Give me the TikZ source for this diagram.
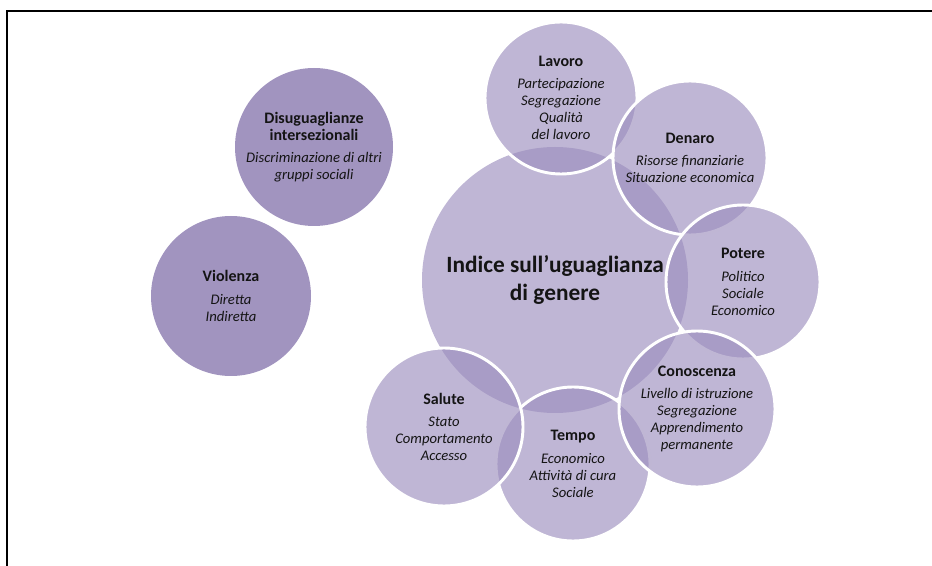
\documentclass[tikz,border=0pt]{standalone}
\usepackage{fontspec}
\setmainfont{Carlito}
\usepackage{tikz}
\usetikzlibrary{positioning}
\definecolor{lilac}{RGB}{155,141,189}
\definecolor{darklilac}{RGB}{161,148,191}
\tikzset{%
	every bubble/.style={
		circle,
		fill=lilac,
		fill opacity=0.64,
		text opacity=1,
		draw=white,
		line width=2.2pt,
		inner sep=0pt,
		align=center,
		text=black!92,
		font=\fontsize{11}{12.75}\selectfont
	},
	bubble size/.style={minimum size=#1*1.5pt},
	dark bubble/.style={
		every bubble,
		fill=darklilac,
		fill opacity=1,
		draw=none
	},
	main bubble/.style={
		every bubble,
		draw=none,
		font=\bfseries\fontsize{17.5}{21}\selectfont
	},
}
\newcommand{\bubbletitle}[1]{{\fontsize{12}{13}\selectfont\textbf{#1}}\\[4pt]}

\begin{document}
\begin{tikzpicture}[x=0.75pt, y=-0.75pt]
	\useasboundingbox (0,0) rectangle (932,566);

	% Draw the frame
	\draw[line width=1.6pt] (7,566) -- (7,11) -- (932,11);

	% Draw the two dark circles on the left
	\node[dark bubble, bubble size=79] (disug) at (314,147) {{\fontsize{12}{13}\selectfont\textbf{Disuguaglianze}}\\\bubbletitle{intersezionali}\itshape Discriminazione di altri\\\itshape gruppi sociali};
	\node[dark bubble, bubble size=80] (violenza) at (231,296) {\bubbletitle{Violenza}\itshape Diretta\\\itshape Indiretta};

	% Draw the central circle
	\node[main bubble, bubble size=133] (indice) at (555,280) {Indice sull'uguaglianza\\di genere};

	% Draw the ring of circles round it
	\node[every bubble, bubble size=76] (lavoro) at (561,98) {\bubbletitle{Lavoro}\itshape Partecipazione\\\itshape Segregazione\\\itshape Qualità\\\itshape del lavoro};
	\node[every bubble, bubble size=77] (denaro) at (690,158) {\bubbletitle{Denaro}\itshape Risorse finanziarie\\\itshape Situazione economica};
	\node[every bubble, bubble size=77] (potere) at (743,282) {\bubbletitle{Potere}\itshape Politico\\\itshape Sociale\\\itshape Economico};
	\node[every bubble, bubble size=77] (tempo) at (573,464) {\bubbletitle{Tempo}\itshape Economico\\\itshape Attività di cura\\\itshape Sociale};
	\node[every bubble, bubble size=78] (conoscenza) at (697,409) {\bubbletitle{Conoscenza}\itshape Livello di istruzione\\\itshape Segregazione\\\itshape Apprendimento\\\itshape permanente};
	\node[every bubble, bubble size=79] (salute) at (444,427) {\bubbletitle{Salute}\itshape Stato\\\itshape Comportamento\\\itshape Accesso};
\end{tikzpicture}
\end{document}
